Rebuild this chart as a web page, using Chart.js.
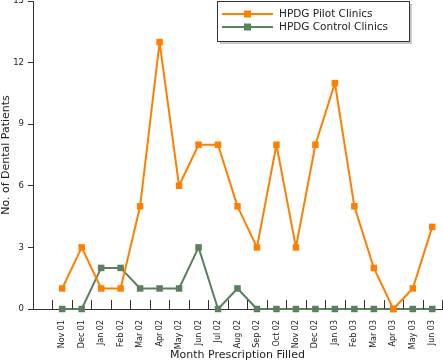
<!DOCTYPE html>
<html>
<head>
<meta charset="utf-8">
<script src="https://cdn.jsdelivr.net/npm/chart.js@4.4.1/dist/chart.umd.min.js"></script>
<style>
html, body { margin: 0; padding: 0; background: #fff; }
#wrap { width: 443px; height: 362px; }
</style>
</head>
<body>
<div id="wrap"><canvas id="canvas" width="443" height="362"></canvas></div>
<script>
// months the prescriptions were filled
var months = ["Nov 01","Dec 01","Jan 02","Feb 02","Mar 02","Apr 02","May 02","Jun 02","Jul 02","Aug 02",
  "Sep 02","Oct 02","Nov 02","Dec 02","Jan 03","Feb 03","Mar 03","Apr 03","May 03","Jun 03"];
var pilot = [1,3,1,1,5,13,6,8,8,5,3,8,3,8,11,5,2,0,1,4];
var control = [0,0,2,2,1,1,1,3,0,1,0,0,0,0,0,0,0,0,0,0];
var yTicks = [0,3,6,9,12,15];

var orange = "#ff8000";
var green = "#5b7f5f";
var axisColor = "#333333";
var font = "'DejaVu Sans', Verdana, sans-serif";

// first slot on the axis is left empty in the original
var labels = [""].concat(months);

// little ticks pointing up into the plot between the months
var innerTicks = {
  id: "innerTicks",
  afterDatasetsDraw: function(chart){
    var x = chart.scales.x, ctx = chart.ctx;
    var step = x.getPixelForValue(1) - x.getPixelForValue(0);
    ctx.save();
    ctx.strokeStyle = axisColor;
    ctx.lineWidth = 1;
    for (var i = 1; i <= labels.length; i++) {
      var px = Math.round(x.getPixelForValue(i) - step/2) + 0.5;
      ctx.beginPath();
      ctx.moveTo(px, x.top);
      ctx.lineTo(px, x.top - 9);
      ctx.stroke();
    }
    ctx.restore();
  }
};

// boxed legend with a shadow, top right
var boxLegend = {
  id: "boxLegend",
  afterDraw: function(chart){
    var ctx = chart.ctx;
    var bx = 217, by = 1, bw = 192, bh = 40;
    ctx.save();
    ctx.fillStyle = "#c8c8c8";
    ctx.fillRect(bx+3, by+3, bw, bh);
    ctx.fillStyle = "#fff";
    ctx.fillRect(bx, by, bw, bh);
    ctx.strokeStyle = axisColor;
    ctx.lineWidth = 1;
    ctx.strokeRect(bx+0.5, by+0.5, bw, bh);
    ctx.font = "10.5px " + font;
    ctx.textBaseline = "middle";
    chart.data.datasets.forEach(function(ds, i){
      var cy = by + 13 + i*13;
      ctx.strokeStyle = ds.borderColor;
      ctx.lineWidth = 2;
      ctx.beginPath();
      ctx.moveTo(bx+5, cy);
      ctx.lineTo(bx+56, cy);
      ctx.stroke();
      ctx.fillStyle = ds.backgroundColor;
      ctx.fillRect(bx+27, cy-3.5, 7, 7);
      ctx.fillStyle = "#222";
      ctx.fillText(ds.label, bx+62, cy);
    });
    ctx.restore();
  }
};

function series(label, values, color){
  return {
    label: label,
    data: [null].concat(values),
    borderColor: color,
    backgroundColor: color,
    borderWidth: 2,
    borderJoinStyle: "bevel",
    pointStyle: "rect",
    pointRadius: 4.6,
    pointBorderWidth: 0,
    lineTension: 0,
    fill: false
  };
}

var config = {
  type: "line",
  data: {
    labels: labels,
    datasets: [
      series("HPDG Pilot Clinics", pilot, orange),
      series("HPDG Control Clinics", control, green)
    ]
  },
  options: {
    responsive: false,
    animation: false,
    clip: false,
    layout: { autoPadding: false, padding: { top: 1, right: 1, left: 0, bottom: 0 } },
    plugins: { legend: { display: false }, tooltip: { enabled: false } },
    scales: {
      x: {
        offset: true,
        grid: { display: false },
        border: { display: true, color: axisColor, width: 1 },
        ticks: {
          autoSkip: false, minRotation: 90, maxRotation: 90,
          padding: 3, color: "#222",
          font: { family: font, size: 8 }
        },
        title: {
          display: true, text: "Month Prescription Filled", color: "#222",
          font: { family: font, size: 11 }, padding: { top: 2, bottom: 0 }
        },
        afterFit: function(s){ s.height = 53; s.paddingLeft = 0; s.paddingRight = 0; }
      },
      y: {
        min: 0, max: 15,
        afterBuildTicks: function(s){ s.ticks = yTicks.map(function(v){ return { value: v }; }); },
        grid: { drawOnChartArea: false, drawTicks: true, tickLength: 5, color: axisColor },
        border: { display: true, color: axisColor, width: 1 },
        ticks: { padding: 4, color: "#222", font: { family: font, size: 8.5 } },
        title: {
          display: true, text: "No. of Dental Patients", color: "#222",
          font: { family: font, size: 11 }, padding: { top: 0, bottom: 1 }
        },
        afterFit: function(s){ s.width = 33; s.paddingTop = 0; s.paddingBottom = 0; }
      }
    }
  },
  plugins: [innerTicks, boxLegend]
};

new Chart(document.getElementById("canvas"), config);
</script>
</body>
</html>
